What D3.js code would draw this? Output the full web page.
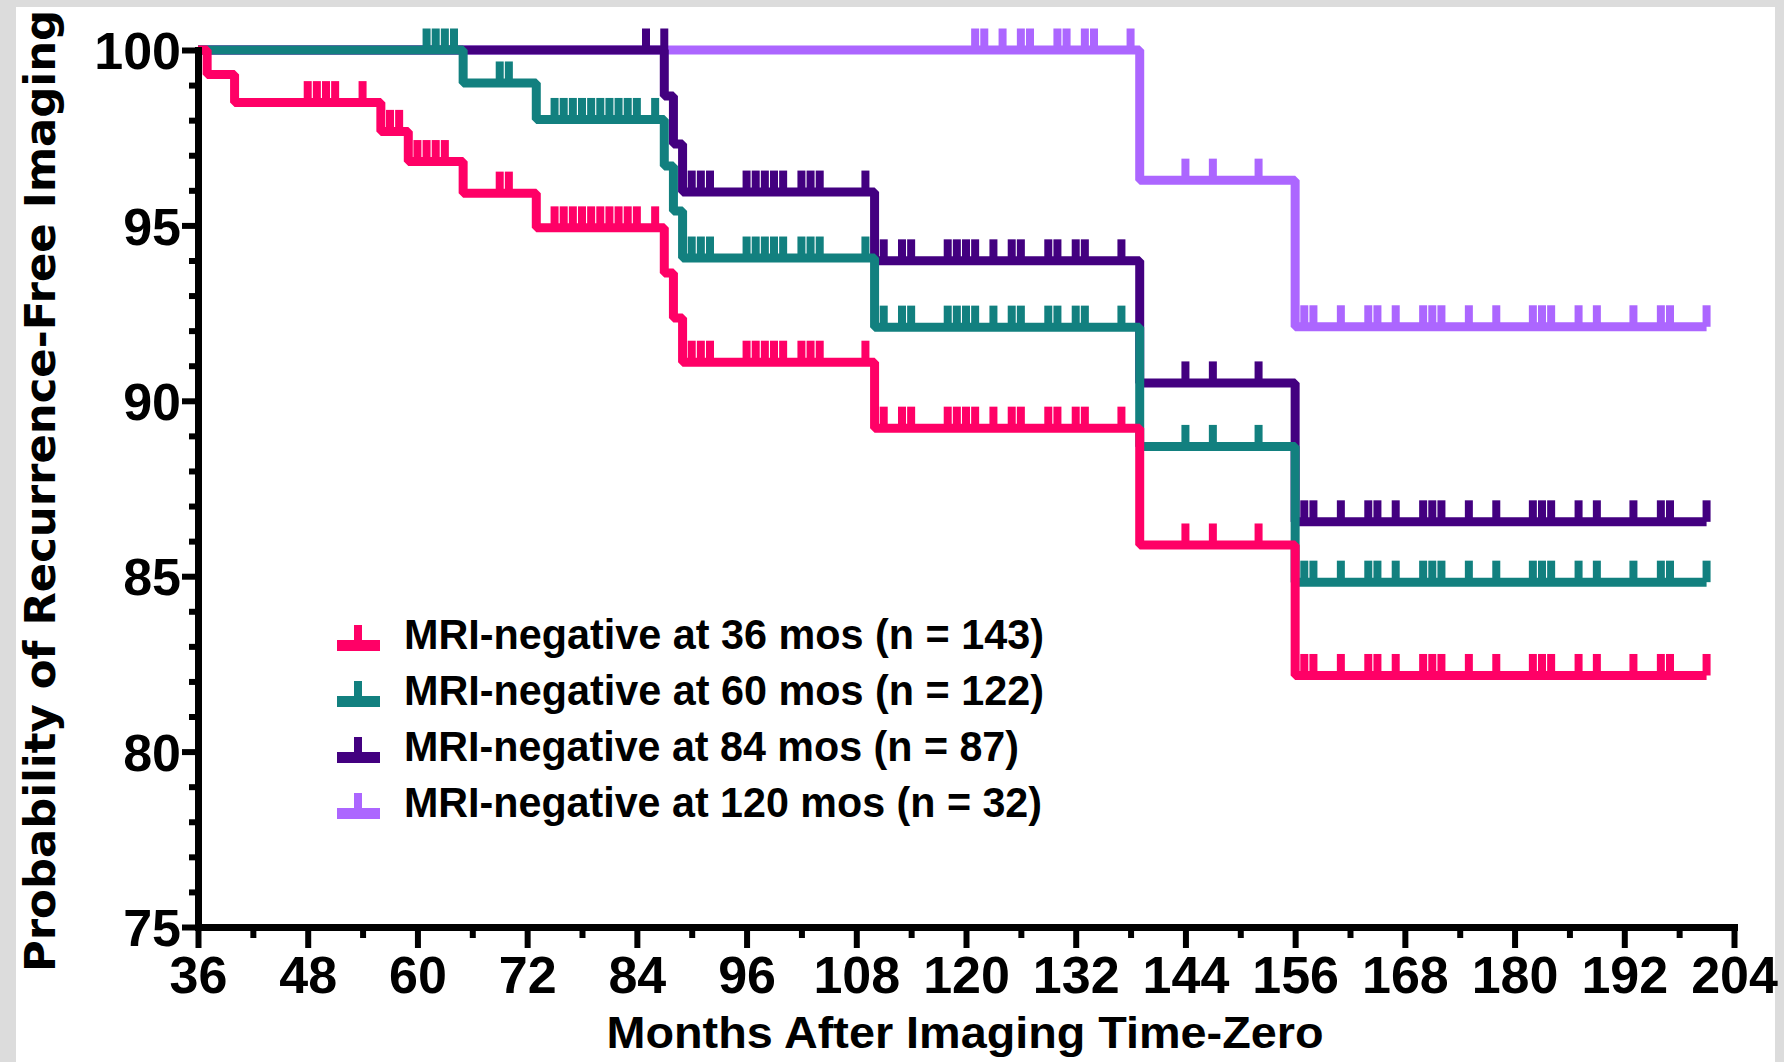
<!DOCTYPE html>
<html><head><meta charset="utf-8">
<script src="https://cdn.jsdelivr.net/npm/d3@7"></script>
<style>
html,body{margin:0;padding:0;background:#dcdcdc;}
svg{display:block;}
</style></head>
<body>
<svg id="chart" width="1784" height="1062"></svg>
<script>
// ---------- data ----------
const xTickValues = [36,48,60,72,84,96,108,120,132,144,156,168,180,192,204];
const xMinorTicks = [42,54,66,78,90,102,114,126,138,150,162,174,186,198];
const yTickValues = [75,80,85,90,95,100];
const yMinorTicks = [76,77,78,79,81,82,83,84,86,87,88,89,91,92,93,94,96,97,98,99];

const seriesNames = [
  "MRI-negative at 36 mos (n = 143)",
  "MRI-negative at 60 mos (n = 122)",
  "MRI-negative at 84 mos (n = 87)",
  "MRI-negative at 120 mos (n = 32)"
];
const seriesColors = ["#ff0066", "#12807f", "#430080", "#ac66ff"];

const startTime = 36;
const endTime = 201;

const red_dropTimes = [37, 40, 56, 59, 65, 73, 87, 88, 89, 110, 139, 156];
const red_levels    = [99.3, 98.5, 97.68, 96.82, 95.92, 94.93, 93.64, 92.36, 91.1, 89.22, 85.89, 82.17];
const teal_dropTimes = [65, 73, 87, 88, 89, 110, 139, 156];
const teal_levels    = [99.06, 98.02, 96.69, 95.41, 94.07, 92.1, 88.7, 84.83];
const purple_dropTimes = [87, 88, 89, 110, 139, 156];
const purple_levels    = [98.69, 97.32, 95.95, 93.99, 90.51, 86.55];
const lavender_dropTimes = [139, 156];
const lavender_levels    = [96.29, 92.11];

const late_censored = [144,147,152,157,158,161,164,165,167,170,171,172,175,178,182,183,184,187,189,193,196,197,201];
const mid_censored = [90,91,92,96,97,98,99,100,102,103,104,109,111,113,114,118,119,120,121,123,125,126,129,130,132,133,137];
const red_censored = [48,49,50,51,54,57,58,60,61,62,63,69,70,75,76,77,78,79,80,81,82,83,84,86].concat(mid_censored, late_censored);
const teal_censored = [61,62,63,64,69,70,75,76,77,78,79,80,81,82,83,84,86].concat(mid_censored, late_censored);
const purple_censored = [85,87].concat(mid_censored, late_censored);
const lavender_censored = [121,122,124,126,127,130,131,133,134,138].concat(late_censored);

// ---------- layout ----------
const svg = d3.select("#chart");
const FONT_NARROW = "'Liberation Sans Narrow', 'Liberation Sans', sans-serif";
const legendTextWidths = [640, 640, 615, 638];

svg.append("rect").attr("x",16).attr("y",7).attr("width",1759).attr("height",1055).attr("fill","#ffffff");

const x = d3.scaleLinear().domain([36,204]).range([198,1734]);
const y = d3.scaleLinear().domain([75,100]).range([927,50]);

const series = [
  {name: seriesNames[0], color: seriesColors[0], drops: red_dropTimes, levels: red_levels, cens: red_censored},
  {name: seriesNames[1], color: seriesColors[1], drops: teal_dropTimes, levels: teal_levels, cens: teal_censored},
  {name: seriesNames[2], color: seriesColors[2], drops: purple_dropTimes, levels: purple_levels, cens: purple_censored},
  {name: seriesNames[3], color: seriesColors[3], drops: lavender_dropTimes, levels: lavender_levels, cens: lavender_censored}
];

function survAt(s, t) {
  let v = 100;
  s.drops.forEach((d,i) => { if (d < t) v = s.levels[i]; });
  return v;
}

const line = d3.line().x(d => x(d[0])).y(d => y(d[1])).curve(d3.curveStepAfter);

// draw order: lavender, purple, teal, red
const order = [3,2,1,0];
const plot = svg.append("g");
order.forEach(i => {
  const s = series[i];
  const pts = [[startTime, 100]];
  s.drops.forEach((d,k) => pts.push([d, s.levels[k]]));
  pts.push([endTime, s.levels[s.levels.length-1]]);
  const g = plot.append("g");
  g.selectAll("rect.cens").data(s.cens).enter().append("rect")
    .attr("class","cens")
    .attr("x", t => x(t) - 4)
    .attr("y", t => y(survAt(s,t)) - 21.5)
    .attr("width", 8)
    .attr("height", 21.5)
    .attr("fill", s.color);
  g.append("path").datum(pts)
    .attr("d", line)
    .attr("fill","none")
    .attr("stroke", s.color)
    .attr("stroke-width", 9)
    .attr("stroke-linejoin","bevel");
});

// ---------- axes ----------
function styleAxis(g) {
  g.select(".domain").attr("stroke","#000").attr("stroke-width",7).attr("stroke-linecap","square");
  g.selectAll(".tick line").attr("stroke","#000").attr("stroke-width",6);
}

const gxMinor = svg.append("g").attr("transform",`translate(0,${y(75)})`)
  .call(d3.axisBottom(x).tickValues(xMinorTicks).tickSize(11).tickSizeOuter(0).tickFormat(""));
gxMinor.select(".domain").remove();
gxMinor.selectAll(".tick line").attr("stroke","#000").attr("stroke-width",6);

const gx = svg.append("g").attr("transform",`translate(0,${y(75)})`)
  .call(d3.axisBottom(x).tickValues(xTickValues).tickSize(21).tickSizeOuter(0));
styleAxis(gx);
gx.selectAll(".tick text")
  .attr("y", 66).attr("dy", 0)
  .attr("font-family", FONT_NARROW).attr("font-weight","bold").attr("font-size",52).attr("fill","#000");

const gyMinor = svg.append("g").attr("transform",`translate(${x(36)},0)`)
  .call(d3.axisLeft(y).tickValues(yMinorTicks).tickSize(9).tickSizeOuter(0).tickFormat(""));
gyMinor.select(".domain").remove();
gyMinor.selectAll(".tick line").attr("stroke","#000").attr("stroke-width",6);

const gy = svg.append("g").attr("transform",`translate(${x(36)},0)`)
  .call(d3.axisLeft(y).tickValues(yTickValues).tickSize(16).tickSizeOuter(0));
styleAxis(gy);
gy.selectAll(".tick text")
  .attr("x", -17).attr("dy","0.36em")
  .attr("font-family", FONT_NARROW).attr("font-weight","bold").attr("font-size",52).attr("fill","#000");

// axis titles
svg.append("text")
  .attr("x", 965).attr("y", 1048)
  .attr("text-anchor","middle")
  .attr("font-family", FONT_NARROW).attr("font-weight","bold").attr("font-size",45)
  .attr("textLength", 717).attr("lengthAdjust","spacingAndGlyphs")
  .attr("fill","#000")
  .text("Months After Imaging Time-Zero");

svg.append("text")
  .attr("transform","translate(55,491) rotate(-90)")
  .attr("text-anchor","middle")
  .attr("font-family","'DejaVu Sans', sans-serif").attr("font-weight","bold").attr("font-size",43.5)
  .attr("textLength", 962).attr("lengthAdjust","spacingAndGlyphs")
  .attr("fill","#000")
  .text("Probability of Recurrence-Free Imaging");

// ---------- legend ----------
const legend = svg.append("g");
series.forEach((s,i) => {
  const base = 649 + i*56;
  legend.append("rect").attr("x",337).attr("y",base-9).attr("width",43).attr("height",11).attr("fill",s.color);
  legend.append("rect").attr("x",354).attr("y",base-24).attr("width",8).attr("height",16).attr("fill",s.color);
  legend.append("text").attr("x",404).attr("y",base)
    .attr("font-family", FONT_NARROW).attr("font-weight","bold").attr("font-size",42)
    .attr("textLength", legendTextWidths[i]).attr("lengthAdjust","spacingAndGlyphs")
    .attr("fill","#000").text(s.name);
});
</script>
</body></html>
